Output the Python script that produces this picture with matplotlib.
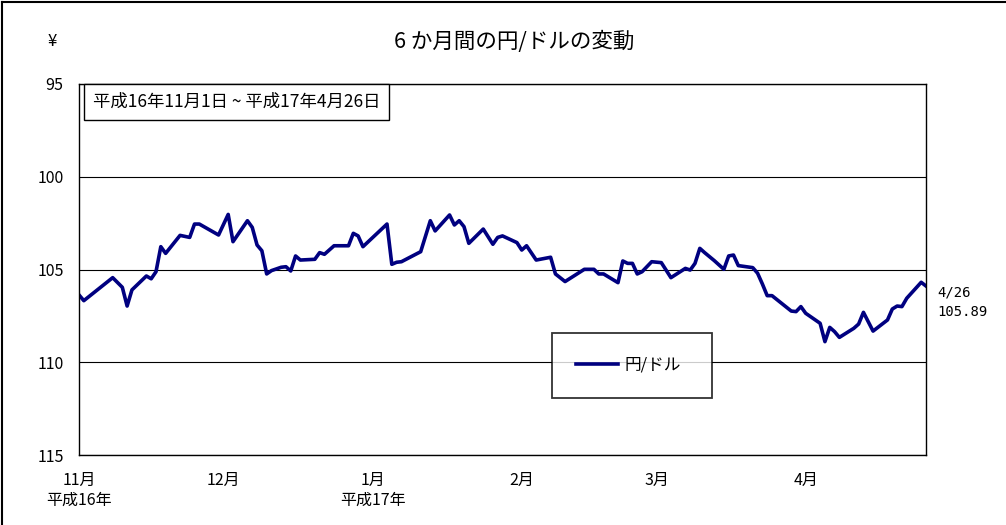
import matplotlib
matplotlib.use('Agg')
import matplotlib.pyplot as plt
import pandas as pd
from matplotlib.lines import Line2D

plt.rcParams['font.family'] = ['Noto Sans CJK JP', 'DejaVu Sans']

# ***** Data *****
dates = [
    '2004-11-01', '2004-11-02', '2004-11-08', '2004-11-10', '2004-11-11', '2004-11-12',
    '2004-11-15', '2004-11-16', '2004-11-17', '2004-11-18', '2004-11-19', '2004-11-22',
    '2004-11-24', '2004-11-25', '2004-11-26', '2004-11-30',
    '2004-12-02', '2004-12-03', '2004-12-06', '2004-12-07', '2004-12-08', '2004-12-09',
    '2004-12-10', '2004-12-11', '2004-12-13', '2004-12-14', '2004-12-15', '2004-12-16',
    '2004-12-17', '2004-12-20', '2004-12-21', '2004-12-22', '2004-12-24', '2004-12-27',
    '2004-12-28', '2004-12-29', '2004-12-30',
    '2005-01-04', '2005-01-05', '2005-01-06', '2005-01-07', '2005-01-11', '2005-01-13',
    '2005-01-14', '2005-01-17', '2005-01-18', '2005-01-19', '2005-01-20', '2005-01-21',
    '2005-01-24', '2005-01-26', '2005-01-27', '2005-01-28', '2005-01-31',
    '2005-02-01', '2005-02-02', '2005-02-04', '2005-02-07', '2005-02-08', '2005-02-10',
    '2005-02-14', '2005-02-16', '2005-02-17', '2005-02-18', '2005-02-21', '2005-02-22',
    '2005-02-23', '2005-02-24', '2005-02-25', '2005-02-26', '2005-02-28',
    '2005-03-02', '2005-03-04', '2005-03-07', '2005-03-08', '2005-03-09', '2005-03-10',
    '2005-03-11', '2005-03-13', '2005-03-15', '2005-03-16', '2005-03-17', '2005-03-18',
    '2005-03-21', '2005-03-22', '2005-03-23', '2005-03-24', '2005-03-25',
    '2005-03-29', '2005-03-30', '2005-03-31', '2005-04-01', '2005-04-04', '2005-04-05',
    '2005-04-06', '2005-04-07', '2005-04-08', '2005-04-11', '2005-04-12', '2005-04-13',
    '2005-04-15', '2005-04-18', '2005-04-19', '2005-04-20', '2005-04-21', '2005-04-22',
    '2005-04-25', '2005-04-26',
]
yen_usd = [
    106.37, 106.68, 105.44, 105.96, 106.97, 106.10,
    105.35, 105.50, 105.12, 103.77, 104.13, 103.16,
    103.27, 102.55, 102.55, 103.14,
    102.03, 103.50, 102.37, 102.73, 103.68, 103.99,
    105.24, 105.06, 104.88, 104.85, 105.08, 104.27,
    104.49, 104.45, 104.09, 104.18, 103.72, 103.72,
    103.05, 103.19, 103.77,
    102.55, 104.72, 104.61, 104.58, 104.04, 102.37,
    102.92, 102.06, 102.60, 102.37, 102.69, 103.59,
    102.82, 103.64, 103.27, 103.19, 103.55,
    103.95, 103.72, 104.49, 104.34, 105.24, 105.65,
    104.99, 104.99, 105.24, 105.24, 105.71, 104.54,
    104.67, 104.67, 105.24, 105.12, 104.58,
    104.63, 105.44, 104.94, 105.03, 104.67, 103.86,
    104.09, 104.52, 104.99, 104.27, 104.22, 104.79,
    104.90, 105.20, 105.78, 106.41, 106.41,
    107.24, 107.27, 107.00, 107.36, 107.90, 108.89,
    108.12, 108.35, 108.66, 108.17, 107.94, 107.31,
    108.32, 107.72, 107.13, 106.97, 107.00, 106.55,
    105.69, 105.89,
]
month_ticks = ['2004-11-01', '2004-12-01', '2005-01-01', '2005-02-01', '2005-03-01', '2005-04-01']
month_labels = ['11月\n平成16年', '12月', '1月\n平成17年', '2月', '3月', '4月']
y_ticks = [95, 100, 105, 110, 115]

title = '6 か月間の円/ドルの変動'
period = '平成16年11月1日 ~ 平成17年4月26日'
series_name = '円/ドル'
last_note = '4/26\n105.89'

# ***** Figure *****
fig = plt.figure(figsize=(10.06, 5.25), dpi=100)
# marco exterior (solo izquierda y arriba)
fig.lines.append(Line2D([0.0015, 0.0015], [0, 0.997], transform=fig.transFigure, color='k', linewidth=1.5))
fig.lines.append(Line2D([0.0015, 1.0], [0.997, 0.997], transform=fig.transFigure, color='k', linewidth=1.5))

ax = fig.add_axes([79/1006, 1 - 455/525, 847/1006, 371/525])
x = pd.to_datetime(dates)
line, = ax.plot(x, yen_usd, color='#000080', linewidth=2.6, label=series_name)

ax.set_ylim(115, 95)
ax.set_yticks(y_ticks)
ax.set_xlim(pd.Timestamp('2004-11-01'), pd.Timestamp('2005-04-26'))
ax.set_xticks(pd.to_datetime(month_ticks))
ax.set_xticklabels(month_labels, fontsize=11.5, linespacing=1.25)
ax.tick_params(axis='both', length=0)
ax.tick_params(axis='y', pad=11, labelsize=11.5)
ax.tick_params(axis='x', pad=12)
ax.grid(axis='y', color='k', linewidth=0.8)
for sp in ax.spines.values():
    sp.set_linewidth(1.0)

# **** Textos ****
fig.text(514/1006, 1 - 42/525, title, ha='center', va='center', fontsize=15.5)
fig.text(52/1006, 1 - 42/525, '¥', ha='center', va='center', fontsize=12)
ax.text(14/847, (455 - 93)/371, period, transform=ax.transAxes, ha='left', va='top', fontsize=12.5,
        bbox=dict(boxstyle='square,pad=0.5', facecolor='white', edgecolor='k', linewidth=1.0))
ax.text(1.013, (455 - 302.5)/371, last_note, transform=ax.transAxes, ha='left', va='center',
        fontsize=10, family='DejaVu Sans Mono', linespacing=1.5)

leg = ax.legend(handles=[line], loc='lower left', bbox_to_anchor=(473/847, 57/371, 160/847, 66/371),
                mode='expand', fontsize=12, frameon=True, fancybox=False, borderaxespad=0,
                handlelength=2.5, handletextpad=0.4, borderpad=1.45)
leg.get_frame().set_edgecolor('k')
leg.get_frame().set_linewidth(1.3)

fig.savefig('out.png', dpi=100)
